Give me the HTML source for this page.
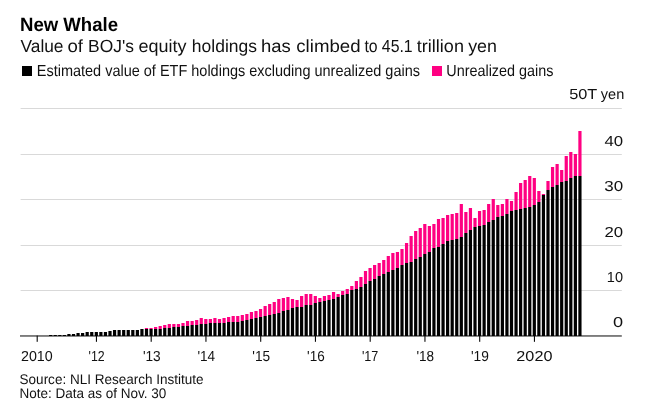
<!DOCTYPE html>
<html><head><meta charset="utf-8"><title>New Whale</title>
<style>
html,body{margin:0;padding:0;background:#fff;}
body{width:648px;height:413px;overflow:hidden;}
svg{display:block;}
text{font-family:"Liberation Sans",sans-serif;fill:#111;text-rendering:geometricPrecision;}
</style></head><body>
<svg width="648" height="413" viewBox="0 0 648 413">
<rect width="648" height="413" fill="#fff"/>
<text x="20.0" y="31" font-size="19.3" font-weight="bold" style="fill:#000" textLength="98.05" lengthAdjust="spacingAndGlyphs">New Whale</text>
<text y="52" font-size="17.6"><tspan x="20.48" textLength="43.04" lengthAdjust="spacingAndGlyphs">Value</tspan> <tspan x="67.48" textLength="15.57" lengthAdjust="spacingAndGlyphs">of</tspan> <tspan x="88.12" textLength="45.9" lengthAdjust="spacingAndGlyphs">BOJ's</tspan> <tspan x="138.63" textLength="47.95" lengthAdjust="spacingAndGlyphs">equity</tspan> <tspan x="191.86" textLength="65.11" lengthAdjust="spacingAndGlyphs">holdings</tspan> <tspan x="260.99" textLength="29.77" lengthAdjust="spacingAndGlyphs">has</tspan> <tspan x="296.27" textLength="64.26" lengthAdjust="spacingAndGlyphs">climbed</tspan> <tspan x="364.39" textLength="13.22" lengthAdjust="spacingAndGlyphs">to</tspan> <tspan x="381.86" textLength="30.82" lengthAdjust="spacingAndGlyphs">45.1</tspan> <tspan x="416.84" textLength="47.09" lengthAdjust="spacingAndGlyphs">trillion</tspan> <tspan x="468.17" textLength="28.77" lengthAdjust="spacingAndGlyphs">yen</tspan></text>
<rect x="22" y="66" width="10" height="10" fill="#000"/>
<text x="36.76" y="76" font-size="16" textLength="383.2" lengthAdjust="spacingAndGlyphs">Estimated value of ETF holdings excluding unrealized gains</text>
<rect x="432" y="66" width="10" height="10" fill="#ff0082"/>
<text x="446.28" y="76" font-size="16" textLength="107.23" lengthAdjust="spacingAndGlyphs">Unrealized gains</text>
<text y="99" font-size="14.5"><tspan x="569.2" textLength="27.81" lengthAdjust="spacingAndGlyphs">50T</tspan> <tspan x="600.87" textLength="23.44" lengthAdjust="spacingAndGlyphs">yen</tspan></text>
<g>
<rect x="20.6" y="108" width="601.2" height="1" fill="#d9d9d9"/>
<rect x="20.6" y="154" width="601.2" height="1" fill="#d9d9d9"/>
<rect x="20.6" y="199" width="601.2" height="1" fill="#d9d9d9"/>
<rect x="20.6" y="245" width="601.2" height="1" fill="#d9d9d9"/>
<rect x="20.6" y="290" width="601.2" height="1" fill="#d9d9d9"/>
</g>
<rect x="20" y="335.1" width="601.8" height="1.7" fill="#6e6e6e"/>
<g>
<rect x="49.087" y="335" width="3.2" height="1" fill="#000"/>
<rect x="53.650" y="335" width="3.2" height="1" fill="#000"/>
<rect x="58.212" y="335" width="3.2" height="1" fill="#000"/>
<rect x="62.775" y="335" width="3.2" height="1" fill="#000"/>
<rect x="67.338" y="334" width="3.2" height="2" fill="#000"/>
<rect x="71.900" y="334" width="3.2" height="2" fill="#000"/>
<rect x="76.463" y="333" width="3.2" height="3" fill="#000"/>
<rect x="81.025" y="333" width="3.2" height="3" fill="#000"/>
<rect x="85.588" y="332" width="3.2" height="4" fill="#000"/>
<rect x="90.150" y="332" width="3.2" height="4" fill="#000"/>
<rect x="94.713" y="332" width="3.2" height="4" fill="#000"/>
<rect x="99.275" y="332" width="3.2" height="4" fill="#000"/>
<rect x="103.838" y="332" width="3.2" height="4" fill="#000"/>
<rect x="108.400" y="331" width="3.2" height="5" fill="#000"/>
<rect x="112.963" y="330" width="3.2" height="6" fill="#000"/>
<rect x="117.525" y="330" width="3.2" height="6" fill="#000"/>
<rect x="122.088" y="330" width="3.2" height="6" fill="#000"/>
<rect x="126.650" y="330" width="3.2" height="6" fill="#000"/>
<rect x="131.213" y="330" width="3.2" height="6" fill="#000"/>
<rect x="135.775" y="330" width="3.2" height="6" fill="#000"/>
<rect x="140.338" y="329" width="3.2" height="7" fill="#000"/>
<rect x="144.900" y="328" width="3.2" height="1" fill="#ff0082"/>
<rect x="144.900" y="329" width="3.2" height="7" fill="#000"/>
<rect x="149.463" y="328" width="3.2" height="1" fill="#ff0082"/>
<rect x="149.463" y="329" width="3.2" height="7" fill="#000"/>
<rect x="154.025" y="327" width="3.2" height="2" fill="#ff0082"/>
<rect x="154.025" y="329" width="3.2" height="7" fill="#000"/>
<rect x="158.588" y="326" width="3.2" height="3" fill="#ff0082"/>
<rect x="158.588" y="329" width="3.2" height="7" fill="#000"/>
<rect x="163.150" y="325" width="3.2" height="3" fill="#ff0082"/>
<rect x="163.150" y="328" width="3.2" height="8" fill="#000"/>
<rect x="167.713" y="324" width="3.2" height="4" fill="#ff0082"/>
<rect x="167.713" y="328" width="3.2" height="8" fill="#000"/>
<rect x="172.275" y="324" width="3.2" height="3" fill="#ff0082"/>
<rect x="172.275" y="327" width="3.2" height="9" fill="#000"/>
<rect x="176.838" y="324" width="3.2" height="3" fill="#ff0082"/>
<rect x="176.838" y="327" width="3.2" height="9" fill="#000"/>
<rect x="181.400" y="323" width="3.2" height="3" fill="#ff0082"/>
<rect x="181.400" y="326" width="3.2" height="10" fill="#000"/>
<rect x="185.963" y="321" width="3.2" height="5" fill="#ff0082"/>
<rect x="185.963" y="326" width="3.2" height="10" fill="#000"/>
<rect x="190.525" y="321" width="3.2" height="4" fill="#ff0082"/>
<rect x="190.525" y="325" width="3.2" height="11" fill="#000"/>
<rect x="195.088" y="320" width="3.2" height="5" fill="#ff0082"/>
<rect x="195.088" y="325" width="3.2" height="11" fill="#000"/>
<rect x="199.650" y="318" width="3.2" height="6" fill="#ff0082"/>
<rect x="199.650" y="324" width="3.2" height="12" fill="#000"/>
<rect x="204.213" y="319" width="3.2" height="5" fill="#ff0082"/>
<rect x="204.213" y="324" width="3.2" height="12" fill="#000"/>
<rect x="208.775" y="319" width="3.2" height="4" fill="#ff0082"/>
<rect x="208.775" y="323" width="3.2" height="13" fill="#000"/>
<rect x="213.338" y="318" width="3.2" height="5" fill="#ff0082"/>
<rect x="213.338" y="323" width="3.2" height="13" fill="#000"/>
<rect x="217.900" y="319" width="3.2" height="4" fill="#ff0082"/>
<rect x="217.900" y="323" width="3.2" height="13" fill="#000"/>
<rect x="222.463" y="318" width="3.2" height="5" fill="#ff0082"/>
<rect x="222.463" y="323" width="3.2" height="13" fill="#000"/>
<rect x="227.025" y="317" width="3.2" height="5" fill="#ff0082"/>
<rect x="227.025" y="322" width="3.2" height="14" fill="#000"/>
<rect x="231.588" y="316" width="3.2" height="6" fill="#ff0082"/>
<rect x="231.588" y="322" width="3.2" height="14" fill="#000"/>
<rect x="236.150" y="316" width="3.2" height="6" fill="#ff0082"/>
<rect x="236.150" y="322" width="3.2" height="14" fill="#000"/>
<rect x="240.713" y="315" width="3.2" height="6" fill="#ff0082"/>
<rect x="240.713" y="321" width="3.2" height="15" fill="#000"/>
<rect x="245.275" y="314" width="3.2" height="6" fill="#ff0082"/>
<rect x="245.275" y="320" width="3.2" height="16" fill="#000"/>
<rect x="249.838" y="312" width="3.2" height="7" fill="#ff0082"/>
<rect x="249.838" y="319" width="3.2" height="17" fill="#000"/>
<rect x="254.400" y="311" width="3.2" height="7" fill="#ff0082"/>
<rect x="254.400" y="318" width="3.2" height="18" fill="#000"/>
<rect x="258.962" y="309" width="3.2" height="8" fill="#ff0082"/>
<rect x="258.962" y="317" width="3.2" height="19" fill="#000"/>
<rect x="263.525" y="306" width="3.2" height="10" fill="#ff0082"/>
<rect x="263.525" y="316" width="3.2" height="20" fill="#000"/>
<rect x="268.087" y="304" width="3.2" height="11" fill="#ff0082"/>
<rect x="268.087" y="315" width="3.2" height="21" fill="#000"/>
<rect x="272.650" y="302" width="3.2" height="12" fill="#ff0082"/>
<rect x="272.650" y="314" width="3.2" height="22" fill="#000"/>
<rect x="277.212" y="299" width="3.2" height="14" fill="#ff0082"/>
<rect x="277.212" y="313" width="3.2" height="23" fill="#000"/>
<rect x="281.775" y="298" width="3.2" height="13" fill="#ff0082"/>
<rect x="281.775" y="311" width="3.2" height="25" fill="#000"/>
<rect x="286.337" y="297" width="3.2" height="13" fill="#ff0082"/>
<rect x="286.337" y="310" width="3.2" height="26" fill="#000"/>
<rect x="290.900" y="299" width="3.2" height="9" fill="#ff0082"/>
<rect x="290.900" y="308" width="3.2" height="28" fill="#000"/>
<rect x="295.462" y="300" width="3.2" height="7" fill="#ff0082"/>
<rect x="295.462" y="307" width="3.2" height="29" fill="#000"/>
<rect x="300.025" y="296" width="3.2" height="11" fill="#ff0082"/>
<rect x="300.025" y="307" width="3.2" height="29" fill="#000"/>
<rect x="304.587" y="294" width="3.2" height="11" fill="#ff0082"/>
<rect x="304.587" y="305" width="3.2" height="31" fill="#000"/>
<rect x="309.150" y="294" width="3.2" height="11" fill="#ff0082"/>
<rect x="309.150" y="305" width="3.2" height="31" fill="#000"/>
<rect x="313.712" y="296" width="3.2" height="7" fill="#ff0082"/>
<rect x="313.712" y="303" width="3.2" height="33" fill="#000"/>
<rect x="318.275" y="298" width="3.2" height="4" fill="#ff0082"/>
<rect x="318.275" y="302" width="3.2" height="34" fill="#000"/>
<rect x="322.837" y="296" width="3.2" height="5" fill="#ff0082"/>
<rect x="322.837" y="301" width="3.2" height="35" fill="#000"/>
<rect x="327.400" y="295" width="3.2" height="5" fill="#ff0082"/>
<rect x="327.400" y="300" width="3.2" height="36" fill="#000"/>
<rect x="331.962" y="292" width="3.2" height="7" fill="#ff0082"/>
<rect x="331.962" y="299" width="3.2" height="37" fill="#000"/>
<rect x="336.525" y="294" width="3.2" height="3" fill="#ff0082"/>
<rect x="336.525" y="297" width="3.2" height="39" fill="#000"/>
<rect x="341.087" y="291" width="3.2" height="4" fill="#ff0082"/>
<rect x="341.087" y="295" width="3.2" height="41" fill="#000"/>
<rect x="345.650" y="289" width="3.2" height="5" fill="#ff0082"/>
<rect x="345.650" y="294" width="3.2" height="42" fill="#000"/>
<rect x="350.212" y="286" width="3.2" height="4" fill="#ff0082"/>
<rect x="350.212" y="290" width="3.2" height="46" fill="#000"/>
<rect x="354.775" y="281" width="3.2" height="8" fill="#ff0082"/>
<rect x="354.775" y="289" width="3.2" height="47" fill="#000"/>
<rect x="359.337" y="277" width="3.2" height="10" fill="#ff0082"/>
<rect x="359.337" y="287" width="3.2" height="49" fill="#000"/>
<rect x="363.900" y="271" width="3.2" height="13" fill="#ff0082"/>
<rect x="363.900" y="284" width="3.2" height="52" fill="#000"/>
<rect x="368.462" y="268" width="3.2" height="13" fill="#ff0082"/>
<rect x="368.462" y="281" width="3.2" height="55" fill="#000"/>
<rect x="373.025" y="265" width="3.2" height="14" fill="#ff0082"/>
<rect x="373.025" y="279" width="3.2" height="57" fill="#000"/>
<rect x="377.587" y="263" width="3.2" height="13" fill="#ff0082"/>
<rect x="377.587" y="276" width="3.2" height="60" fill="#000"/>
<rect x="382.150" y="260" width="3.2" height="14" fill="#ff0082"/>
<rect x="382.150" y="274" width="3.2" height="62" fill="#000"/>
<rect x="386.712" y="256" width="3.2" height="16" fill="#ff0082"/>
<rect x="386.712" y="272" width="3.2" height="64" fill="#000"/>
<rect x="391.275" y="253" width="3.2" height="17" fill="#ff0082"/>
<rect x="391.275" y="270" width="3.2" height="66" fill="#000"/>
<rect x="395.837" y="252" width="3.2" height="16" fill="#ff0082"/>
<rect x="395.837" y="268" width="3.2" height="68" fill="#000"/>
<rect x="400.400" y="249" width="3.2" height="16" fill="#ff0082"/>
<rect x="400.400" y="265" width="3.2" height="71" fill="#000"/>
<rect x="404.962" y="243" width="3.2" height="20" fill="#ff0082"/>
<rect x="404.962" y="263" width="3.2" height="73" fill="#000"/>
<rect x="409.525" y="236" width="3.2" height="26" fill="#ff0082"/>
<rect x="409.525" y="262" width="3.2" height="74" fill="#000"/>
<rect x="414.087" y="231" width="3.2" height="28" fill="#ff0082"/>
<rect x="414.087" y="259" width="3.2" height="77" fill="#000"/>
<rect x="418.650" y="228" width="3.2" height="29" fill="#ff0082"/>
<rect x="418.650" y="257" width="3.2" height="79" fill="#000"/>
<rect x="423.212" y="224" width="3.2" height="30" fill="#ff0082"/>
<rect x="423.212" y="254" width="3.2" height="82" fill="#000"/>
<rect x="427.775" y="226" width="3.2" height="26" fill="#ff0082"/>
<rect x="427.775" y="252" width="3.2" height="84" fill="#000"/>
<rect x="432.337" y="224" width="3.2" height="24" fill="#ff0082"/>
<rect x="432.337" y="248" width="3.2" height="88" fill="#000"/>
<rect x="436.900" y="219" width="3.2" height="28" fill="#ff0082"/>
<rect x="436.900" y="247" width="3.2" height="89" fill="#000"/>
<rect x="441.462" y="218" width="3.2" height="26" fill="#ff0082"/>
<rect x="441.462" y="244" width="3.2" height="92" fill="#000"/>
<rect x="446.025" y="215" width="3.2" height="26" fill="#ff0082"/>
<rect x="446.025" y="241" width="3.2" height="95" fill="#000"/>
<rect x="450.587" y="214" width="3.2" height="26" fill="#ff0082"/>
<rect x="450.587" y="240" width="3.2" height="96" fill="#000"/>
<rect x="455.150" y="213" width="3.2" height="26" fill="#ff0082"/>
<rect x="455.150" y="239" width="3.2" height="97" fill="#000"/>
<rect x="459.712" y="204" width="3.2" height="33" fill="#ff0082"/>
<rect x="459.712" y="237" width="3.2" height="99" fill="#000"/>
<rect x="464.275" y="212" width="3.2" height="21" fill="#ff0082"/>
<rect x="464.275" y="233" width="3.2" height="103" fill="#000"/>
<rect x="468.837" y="208" width="3.2" height="22" fill="#ff0082"/>
<rect x="468.837" y="230" width="3.2" height="106" fill="#000"/>
<rect x="473.400" y="218" width="3.2" height="9" fill="#ff0082"/>
<rect x="473.400" y="227" width="3.2" height="109" fill="#000"/>
<rect x="477.962" y="211" width="3.2" height="15" fill="#ff0082"/>
<rect x="477.962" y="226" width="3.2" height="110" fill="#000"/>
<rect x="482.525" y="210" width="3.2" height="15" fill="#ff0082"/>
<rect x="482.525" y="225" width="3.2" height="111" fill="#000"/>
<rect x="487.087" y="204" width="3.2" height="18" fill="#ff0082"/>
<rect x="487.087" y="222" width="3.2" height="114" fill="#000"/>
<rect x="491.650" y="199" width="3.2" height="21" fill="#ff0082"/>
<rect x="491.650" y="220" width="3.2" height="116" fill="#000"/>
<rect x="496.212" y="205" width="3.2" height="12" fill="#ff0082"/>
<rect x="496.212" y="217" width="3.2" height="119" fill="#000"/>
<rect x="500.775" y="204" width="3.2" height="12" fill="#ff0082"/>
<rect x="500.775" y="216" width="3.2" height="120" fill="#000"/>
<rect x="505.337" y="199" width="3.2" height="15" fill="#ff0082"/>
<rect x="505.337" y="214" width="3.2" height="122" fill="#000"/>
<rect x="509.900" y="201" width="3.2" height="10" fill="#ff0082"/>
<rect x="509.900" y="211" width="3.2" height="125" fill="#000"/>
<rect x="514.462" y="192" width="3.2" height="18" fill="#ff0082"/>
<rect x="514.462" y="210" width="3.2" height="126" fill="#000"/>
<rect x="519.025" y="183" width="3.2" height="26" fill="#ff0082"/>
<rect x="519.025" y="209" width="3.2" height="127" fill="#000"/>
<rect x="523.587" y="180" width="3.2" height="28" fill="#ff0082"/>
<rect x="523.587" y="208" width="3.2" height="128" fill="#000"/>
<rect x="528.150" y="176" width="3.2" height="31" fill="#ff0082"/>
<rect x="528.150" y="207" width="3.2" height="129" fill="#000"/>
<rect x="532.712" y="178" width="3.2" height="27" fill="#ff0082"/>
<rect x="532.712" y="205" width="3.2" height="131" fill="#000"/>
<rect x="537.275" y="191" width="3.2" height="11" fill="#ff0082"/>
<rect x="537.275" y="202" width="3.2" height="134" fill="#000"/>
<rect x="541.837" y="194" width="3.2" height="1" fill="#ff0082"/>
<rect x="541.837" y="195" width="3.2" height="141" fill="#000"/>
<rect x="546.400" y="181" width="3.2" height="9" fill="#ff0082"/>
<rect x="546.400" y="190" width="3.2" height="146" fill="#000"/>
<rect x="550.962" y="167" width="3.2" height="20" fill="#ff0082"/>
<rect x="550.962" y="187" width="3.2" height="149" fill="#000"/>
<rect x="555.525" y="164" width="3.2" height="21" fill="#ff0082"/>
<rect x="555.525" y="185" width="3.2" height="151" fill="#000"/>
<rect x="560.087" y="170" width="3.2" height="12" fill="#ff0082"/>
<rect x="560.087" y="182" width="3.2" height="154" fill="#000"/>
<rect x="564.650" y="156" width="3.2" height="25" fill="#ff0082"/>
<rect x="564.650" y="181" width="3.2" height="155" fill="#000"/>
<rect x="569.212" y="152" width="3.2" height="26" fill="#ff0082"/>
<rect x="569.212" y="178" width="3.2" height="158" fill="#000"/>
<rect x="573.775" y="154" width="3.2" height="22" fill="#ff0082"/>
<rect x="573.775" y="176" width="3.2" height="160" fill="#000"/>
<rect x="578.337" y="131" width="3.2" height="45" fill="#ff0082"/>
<rect x="578.337" y="176" width="3.2" height="160" fill="#000"/>
</g>
<g>
<rect x="36.65" y="335.6" width="1.1" height="6.2" fill="#0a0a0a"/>
<rect x="95.90" y="335.6" width="1.1" height="6.2" fill="#0a0a0a"/>
<rect x="150.65" y="335.6" width="1.1" height="6.2" fill="#0a0a0a"/>
<rect x="205.40" y="335.6" width="1.1" height="6.2" fill="#0a0a0a"/>
<rect x="260.15" y="335.6" width="1.1" height="6.2" fill="#0a0a0a"/>
<rect x="314.90" y="335.6" width="1.1" height="6.2" fill="#0a0a0a"/>
<rect x="369.65" y="335.6" width="1.1" height="6.2" fill="#0a0a0a"/>
<rect x="424.40" y="335.6" width="1.1" height="6.2" fill="#0a0a0a"/>
<rect x="479.15" y="335.6" width="1.1" height="6.2" fill="#0a0a0a"/>
<rect x="533.90" y="335.6" width="1.1" height="6.2" fill="#0a0a0a"/>
</g>
<g>
<text x="20.96" y="361" font-size="14.5" textLength="31.77" lengthAdjust="spacingAndGlyphs">2010</text>
<text x="88.56" y="361" font-size="14.5" textLength="16.1" lengthAdjust="spacingAndGlyphs">'12</text>
<text x="142.89" y="361" font-size="14.5" textLength="17.83" lengthAdjust="spacingAndGlyphs">'13</text>
<text x="197.4" y="361" font-size="14.5" textLength="17.68" lengthAdjust="spacingAndGlyphs">'14</text>
<text x="252.29" y="361" font-size="14.5" textLength="17.83" lengthAdjust="spacingAndGlyphs">'15</text>
<text x="307.1" y="361" font-size="14.5" textLength="17.61" lengthAdjust="spacingAndGlyphs">'16</text>
<text x="361.95" y="361" font-size="14.5" textLength="16.43" lengthAdjust="spacingAndGlyphs">'17</text>
<text x="416.5" y="361" font-size="14.5" textLength="17.61" lengthAdjust="spacingAndGlyphs">'18</text>
<text x="470.99" y="361" font-size="14.5" textLength="17.93" lengthAdjust="spacingAndGlyphs">'19</text>
<text x="516.36" y="361" font-size="14.5" textLength="36.05" lengthAdjust="spacingAndGlyphs">2020</text>
</g>
<g>
<text x="604.47" y="146" font-size="14.5" textLength="18.68" lengthAdjust="spacingAndGlyphs">40</text>
<text x="604.27" y="191" font-size="14.5" textLength="18.88" lengthAdjust="spacingAndGlyphs">30</text>
<text x="604.54" y="237" font-size="14.5" textLength="18.6" lengthAdjust="spacingAndGlyphs">20</text>
<text x="606.87" y="282" font-size="14.5" textLength="16.17" lengthAdjust="spacingAndGlyphs">10</text>
<text x="613.02" y="327" font-size="14.5" textLength="10.11" lengthAdjust="spacingAndGlyphs">0</text>
</g>
<text x="19.6" y="384" font-size="14" textLength="183.94" lengthAdjust="spacingAndGlyphs">Source: NLI Research Institute</text>
<text x="19.41" y="398" font-size="14" textLength="146.98" lengthAdjust="spacingAndGlyphs">Note: Data as of Nov. 30</text>
</svg>
</body></html>
